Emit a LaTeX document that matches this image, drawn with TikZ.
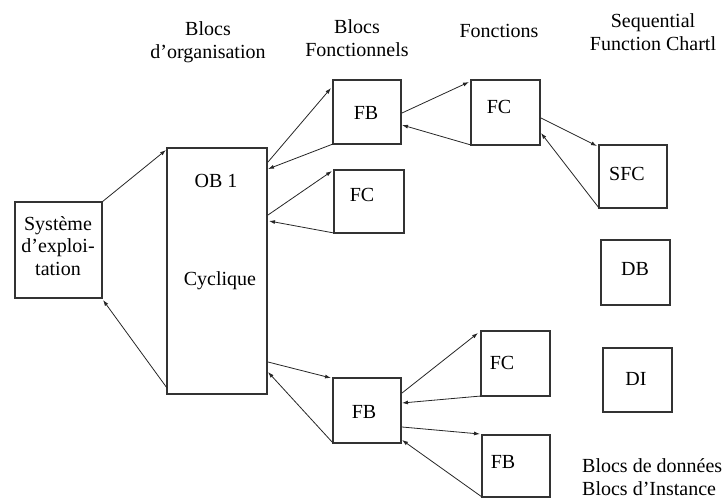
\documentclass[tikz,border=0pt]{standalone}
\usepackage{fontspec}
\setmainfont{Liberation Serif}
\usetikzlibrary{arrows.meta,calc}

% Draw a block as a named empty rectangle from its corner coordinates
\newcommand{\blockbox}[5]{%
  \pgfmathsetmacro{\bw}{#4-#2}\pgfmathsetmacro{\bh}{#5-#3}%
  \node[blk, minimum width=\bw pt, minimum height=\bh pt] (#1) at ({(#2+#4)/2},{(#3+#5)/2}) {};}

\begin{document}
\begin{tikzpicture}[x=1pt,y=-1pt,
  blk/.style={draw=black!80, line width=1.4pt, inner sep=0pt, outer sep=0pt},
  txt/.style={font=\fontsize{20}{22.5}\selectfont, inner sep=0pt, align=center},
  link/.style={draw=black!85, line width=0.8pt, -{Latex[length=6pt,width=4pt]}}]
\useasboundingbox (0,0) rectangle (728,500);

% column headings
\node[txt] (hob) at (208,42) {Blocs\\d’organisation};
\node[txt] (hfb) at (357,38) {Blocs\\Fonctionnels};
\node[txt] (hfc) at (499,31) {Fonctions};
\node[txt] (hsfc) at (653,32) {Sequential\\Function Chartl};
\node[txt, align=left, anchor=west] (hdb) at (582,477) {Blocs de données\\Blocs d’Instance};

% blocks
\blockbox{sys}{15}{202}{102}{298}
\blockbox{ob}{167}{148}{267}{394}
\blockbox{fba}{333}{80}{401}{144}
\blockbox{fcb}{334}{170}{404}{233}
\blockbox{fca}{471}{80}{540}{145}
\blockbox{sfc}{599}{145}{667}{208}
\blockbox{db}{601}{240}{670}{305}
\blockbox{di}{603}{348}{672}{412}
\blockbox{fbc}{333}{378}{401}{443}
\blockbox{fcc}{481}{331}{550}{396}
\blockbox{fbd}{482}{435}{550}{497}

% block labels
\node[txt] (syst) at (58,246) {Système\\d’exploi-\\tation};
\node[txt] (obt) at (216,181) {OB 1};
\node[txt] (obc) at (220,281) {Cyclique};
\node[txt] (fbat) at (366,113) {FB};
\node[txt] (fcbt) at (362,195) {FC};
\node[txt] (fcat) at (499,107) {FC};
\node[txt] (sfct) at (627,174) {SFC};
\node[txt] (dbt) at (635,269) {DB};
\node[txt] (dit) at (636,379) {DI};
\node[txt] (fbct) at (364,412) {FB};
\node[txt] (fcct) at (502,363) {FC};
\node[txt] (fbdt) at (503,462) {FB};

% calls and returns
\draw[link] (sys.north east) -- ($(ob.north west)+(-1,2)$);
\draw[link] ($(ob.north east)+(1,14)$) -- ($(fba.north west)+(-2,8)$);
\draw[link] (fba.south west) -- ($(ob.north east)+(1,21)$);
\draw[link] ($(ob.north east)+(1,67)$) -- ($(fcb.north west)+(-2,1)$);
\draw[link] (fcb.south west) -- ($(ob.north east)+(2,73)$);
\draw[link] ($(fba.north east)+(1,33)$) -- ($(fca.north west)+(-2,2)$);
\draw[link] (fca.south west) -- ($(fba.north east)+(1,45)$);
\draw[link] ($(fca.north east)+(1,38)$) -- ($(sfc.north west)+(-2,1)$);
\draw[link] (sfc.south west) -- ($(fca.north east)+(1,53)$);
\draw[link] ($(ob.south west)+(0,-6)$) -- ($(sys.south east)+(1,2)$);
\draw[link] ($(ob.south east)+(1,-32)$) -- ($(fbc.north west)+(-2,0)$);
\draw[link] (fbc.south west) -- ($(ob.south east)+(1,-22)$);
\draw[link] ($(fbc.north east)+(1,15)$) -- ($(fcc.north west)+(-3,2)$);
\draw[link] (fcc.south west) -- ($(fbc.north east)+(1,25)$);
\draw[link] ($(fbc.north east)+(1,49)$) -- ($(fbd.north west)+(-2,-1)$);
\draw[link] (fbd.south west) -- ($(fbc.south east)+(1,-3)$);
\end{tikzpicture}
\end{document}
